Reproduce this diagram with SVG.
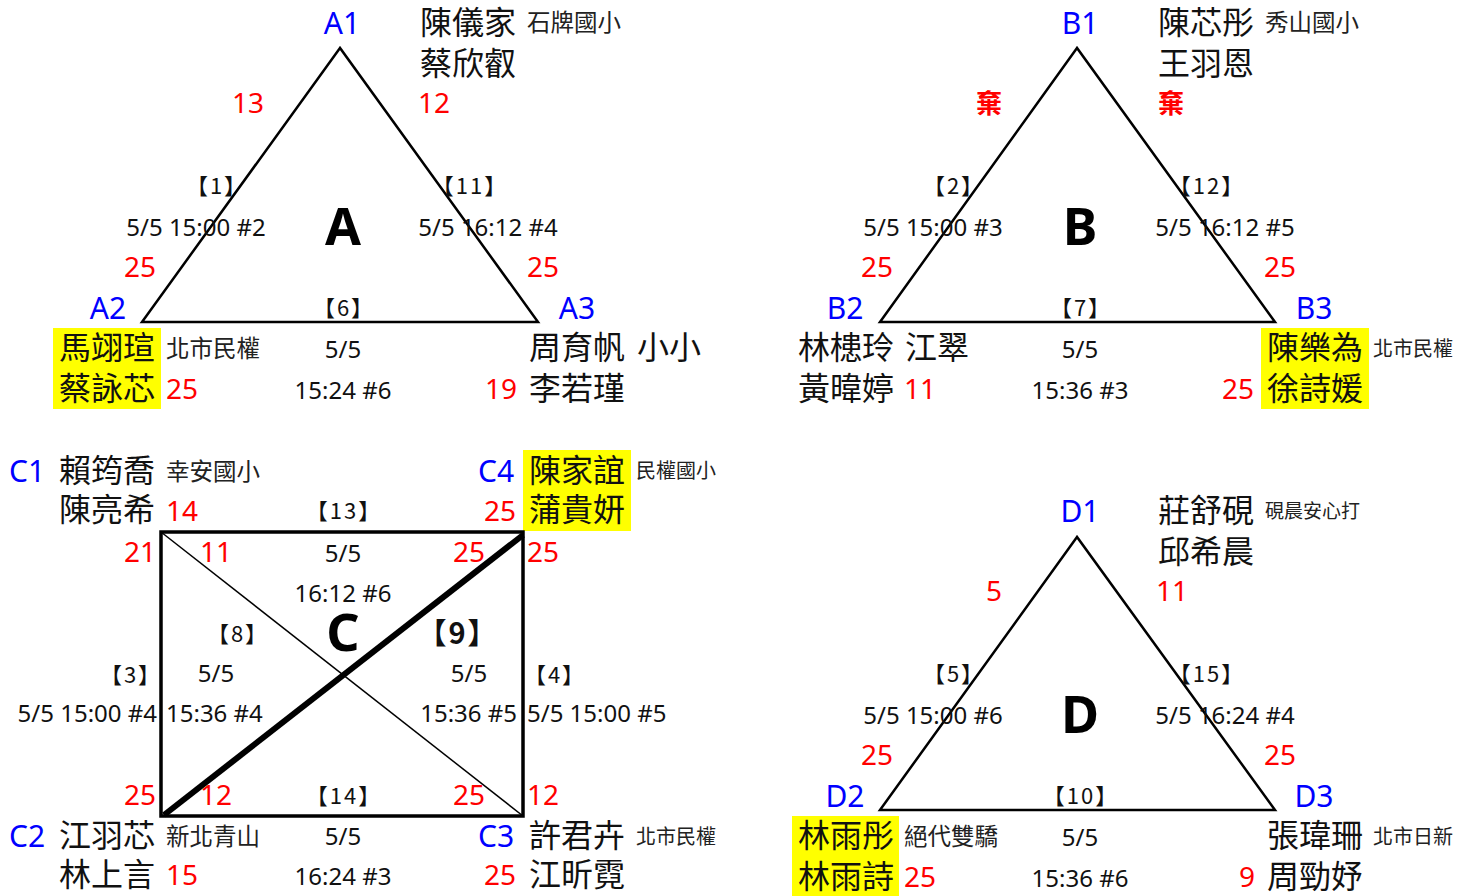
<svg xmlns="http://www.w3.org/2000/svg" width="1467" height="896" viewBox="0 0 1467 896">
<style>
text{font-family:"Noto Sans","Noto Sans CJK TC",sans-serif}
.lb{font-size:30px;fill:#0000ff}
.nm{font-family:"Noto Sans CJK TC",sans-serif;font-size:32px;fill:#111}
.sm{font-family:"Noto Sans CJK TC",sans-serif;font-size:23.5px;fill:#222}
.s2{font-family:"Noto Sans CJK TC",sans-serif;font-size:20px;fill:#222}
.xs{font-family:"Noto Sans CJK TC",sans-serif;font-size:19px;fill:#222}
.sc{font-size:28px;fill:#ff0000}
.qt{font-family:"Noto Sans CJK TC",sans-serif;font-size:26px;font-weight:bold;fill:#ff0000}
.t{font-size:24px;fill:#111}
.br{font-family:"Noto Sans CJK TC",sans-serif;font-size:22px;fill:#111;letter-spacing:2px}
.bb{font-family:"Noto Sans CJK TC",sans-serif;font-size:29px;font-weight:bold;fill:#111;letter-spacing:2px}
.big{font-size:52px;font-weight:bold;fill:#000}
.m{text-anchor:middle}
.e{text-anchor:end}
.hl{fill:#ffff00}
.tri{fill:none;stroke:#000;stroke-width:2.5;stroke-linejoin:miter}
.sq{fill:none;stroke:#000;stroke-width:3.5}
</style>
<rect width="1467" height="896" fill="#fff"/>
<g id="highlights">
<rect class="hl" x="53" y="328" width="108" height="81"/>
<rect class="hl" x="1261" y="328" width="108" height="81"/>
<rect class="hl" x="523" y="450" width="108" height="81"/>
<rect class="hl" x="792" y="816" width="107" height="80"/>
</g>
<g id="connectors">
<polygon class="tri" points="340,48 142,322 538,322"/>
<polygon class="tri" points="1077,48 880,322 1275,322"/>
<polygon class="tri" points="1077,537 880,810 1275,810"/>
<rect class="sq" x="161" y="532" width="362" height="284"/>
<line x1="161" y1="532" x2="523" y2="816" stroke="#000" stroke-width="1.5"/>
<line x1="164" y1="815" x2="523" y2="535" stroke="#000" stroke-width="6"/>
</g>
<g id="groupA">
<text class="lb m" x="342" y="34">A1</text>
<text class="nm" x="420" y="34">陳儀家</text>
<text class="sm" x="527" y="31">石牌國小</text>
<text class="nm" x="420" y="75">蔡欣叡</text>
<text class="sc m" x="248" y="113">13</text>
<text class="sc m" x="434" y="113">12</text>
<text class="br m" x="217" y="194">【1】</text>
<text class="t m" x="196" y="236">5/5 15:00 #2</text>
<text class="big m" x="343" y="245">A</text>
<text class="br m" x="470" y="194">【11】</text>
<text class="t m" x="488" y="236">5/5 16:12 #4</text>
<text class="sc m" x="140" y="277">25</text>
<text class="sc m" x="543" y="277">25</text>
<text class="lb m" x="108" y="319">A2</text>
<text class="br m" x="344" y="316">【6】</text>
<text class="lb m" x="577" y="319">A3</text>
<text class="nm" x="59" y="359">馬翊瑄</text>
<text class="sm" x="166" y="357">北市民權</text>
<text class="t m" x="343" y="358">5/5</text>
<text class="nm" x="529" y="359">周育帆<tspan x="637">小小</tspan></text>
<text class="nm" x="59" y="400">蔡詠芯</text>
<text class="sc m" x="182" y="399">25</text>
<text class="t m" x="343" y="399">15:24 #6</text>
<text class="sc m" x="501" y="399">19</text>
<text class="nm" x="529" y="400">李若瑾</text>
</g>
<g id="groupB">
<text class="lb m" x="1080" y="34">B1</text>
<text class="nm" x="1158" y="34">陳芯彤</text>
<text class="sm" x="1265" y="31">秀山國小</text>
<text class="nm" x="1158" y="75">王羽恩</text>
<text class="qt m" x="989" y="113">棄</text>
<text class="qt m" x="1171" y="113">棄</text>
<text class="br m" x="954" y="194">【2】</text>
<text class="t m" x="933" y="236">5/5 15:00 #3</text>
<text class="big m" x="1080" y="245">B</text>
<text class="br m" x="1207" y="194">【12】</text>
<text class="t m" x="1225" y="236">5/5 16:12 #5</text>
<text class="sc m" x="877" y="277">25</text>
<text class="sc m" x="1280" y="277">25</text>
<text class="lb m" x="845" y="319">B2</text>
<text class="br m" x="1081" y="316">【7】</text>
<text class="lb m" x="1314" y="319">B3</text>
<text class="nm" x="798" y="359">林槵玲<tspan x="905">江翠</tspan></text>
<text class="t m" x="1080" y="358">5/5</text>
<text class="nm" x="1267" y="359">陳樂為</text>
<text class="s2" x="1373" y="356">北市民權</text>
<text class="nm" x="798" y="400">黃暐婷</text>
<text class="sc m" x="920" y="399">11</text>
<text class="t m" x="1080" y="399">15:36 #3</text>
<text class="sc m" x="1238" y="399">25</text>
<text class="nm" x="1267" y="400">徐詩媛</text>
</g>
<g id="groupC">
<text class="lb m" x="27" y="482">C1</text>
<text class="nm" x="59" y="482">賴筠喬</text>
<text class="sm" x="166" y="480">幸安國小</text>
<text class="lb m" x="496" y="482">C4</text>
<text class="nm" x="529" y="482">陳家誼</text>
<text class="s2" x="636" y="478">民權國小</text>
<text class="nm" x="59" y="521">陳亮希</text>
<text class="sc m" x="182" y="521">14</text>
<text class="br m" x="344" y="519">【13】</text>
<text class="sc m" x="500" y="521">25</text>
<text class="nm" x="529" y="521">蒲貴妍</text>
<text class="sc m" x="140" y="562">21</text>
<text class="sc m" x="216" y="562">11</text>
<text class="t m" x="343" y="562">5/5</text>
<text class="sc m" x="469" y="562">25</text>
<text class="sc m" x="543" y="562">25</text>
<text class="t m" x="343" y="602">16:12 #6</text>
<text class="br m" x="238" y="642">【8】</text>
<text class="big m" x="343" y="651">C</text>
<text class="bb m" x="458" y="644">【9】</text>
<text class="br m" x="131" y="683">【3】</text>
<text class="t m" x="216" y="682">5/5</text>
<text class="t m" x="469" y="682">5/5</text>
<text class="br m" x="555" y="683">【4】</text>
<text class="t e" x="157" y="722">5/5 15:00 #4</text>
<text class="t" x="166" y="722">15:36 #4</text>
<text class="t e" x="517" y="722">15:36 #5</text>
<text class="t" x="527" y="722">5/5 15:00 #5</text>
<text class="sc m" x="140" y="805">25</text>
<text class="sc m" x="216" y="805">12</text>
<text class="br m" x="344" y="804">【14】</text>
<text class="sc m" x="469" y="805">25</text>
<text class="sc m" x="543" y="805">12</text>
<text class="lb m" x="27" y="847">C2</text>
<text class="nm" x="59" y="847">江羽芯</text>
<text class="sm" x="166" y="845">新北青山</text>
<text class="t m" x="343" y="845">5/5</text>
<text class="lb m" x="496" y="847">C3</text>
<text class="nm" x="529" y="847">許君卉</text>
<text class="s2" x="636" y="844">北市民權</text>
<text class="nm" x="59" y="886">林上言</text>
<text class="sc m" x="182" y="885">15</text>
<text class="t m" x="343" y="885">16:24 #3</text>
<text class="sc m" x="500" y="885">25</text>
<text class="nm" x="529" y="886">江昕霓</text>
</g>
<g id="groupD">
<text class="lb m" x="1080" y="522">D1</text>
<text class="nm" x="1158" y="522">莊舒硯</text>
<text class="xs" x="1265" y="518">硯晨安心打</text>
<text class="nm" x="1158" y="563">邱希晨</text>
<text class="sc m" x="994" y="601">5</text>
<text class="sc m" x="1172" y="601">11</text>
<text class="br m" x="954" y="682">【5】</text>
<text class="t m" x="933" y="724">5/5 15:00 #6</text>
<text class="big m" x="1080" y="733">D</text>
<text class="br m" x="1207" y="682">【15】</text>
<text class="t m" x="1225" y="724">5/5 16:24 #4</text>
<text class="sc m" x="877" y="765">25</text>
<text class="sc m" x="1280" y="765">25</text>
<text class="lb m" x="845" y="807">D2</text>
<text class="br m" x="1081" y="804">【10】</text>
<text class="lb m" x="1314" y="807">D3</text>
<text class="nm" x="798" y="847">林雨彤</text>
<text class="sm" x="904" y="845">絕代雙驕</text>
<text class="t m" x="1080" y="846">5/5</text>
<text class="nm" x="1267" y="847">張瑋珊</text>
<text class="s2" x="1373" y="844">北市日新</text>
<text class="nm" x="798" y="888">林雨詩</text>
<text class="sc m" x="920" y="887">25</text>
<text class="t m" x="1080" y="887">15:36 #6</text>
<text class="sc m" x="1247" y="887">9</text>
<text class="nm" x="1267" y="888">周勁妤</text>
</g>
</svg>
